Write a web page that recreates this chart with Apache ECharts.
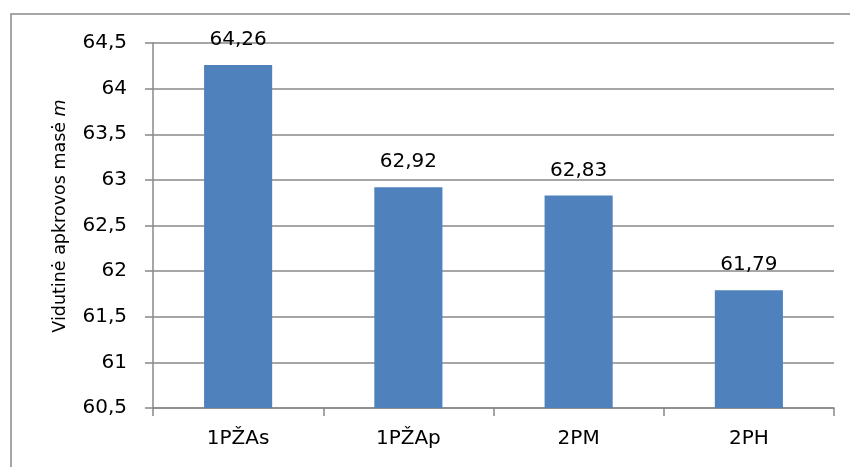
<!DOCTYPE html>
<html>
<head>
<meta charset="utf-8">
<script src="https://cdn.jsdelivr.net/npm/echarts@6/dist/echarts.min.js"></script>
<style>
  html, body { margin: 0; padding: 0; background: #fff; }
  #chart { width: 850px; height: 467px; }
</style>
</head>
<body>
<div id="chart"></div>
<script>
// Average load mass per scheme
const categories = ['1PŽAs', '1PŽAp', '2PM', '2PH'];
const values = [64.26, 62.92, 62.83, 61.79];
const yMin = 60.5;
const yMax = 64.5;
const yStep = 0.5;

const fmt = v => String(v).replace('.', ',');
const font = '"DejaVu Sans", "Open Sans", sans-serif';
const gray = '#888888';

const chart = echarts.init(document.getElementById('chart'), null, { renderer: 'canvas' });
chart.setOption({
  backgroundColor: '#ffffff',
  animation: false,
  grid: { left: 153, right: 16, top: 43, bottom: 59, containLabel: false },
  graphic: [{
    type: 'rect',
    shape: { x: 11, y: 14, width: 860, height: 480 },
    style: { fill: 'none', stroke: gray, lineWidth: 1.5 },
    silent: true
  }],
  xAxis: {
    type: 'category',
    data: categories,
    axisLine: { show: true, lineStyle: { color: gray, width: 1.5 } },
    axisTick: { show: true, length: 8, lineStyle: { color: gray, width: 1.5 } },
    axisLabel: { color: '#000', fontFamily: font, fontSize: 20, margin: 21 }
  },
  yAxis: {
    type: 'value',
    min: yMin,
    max: yMax,
    interval: yStep,
    name: '{a|Vidutinė apkrovos masė }{b|m}',
    nameLocation: 'middle',
    nameRotate: 90,
    nameGap: 84,
    nameTextStyle: {
      fontFamily: font,
      fontSize: 17.5,
      color: '#000',
      padding: [0, 0, 0, 19],
      rich: {
        a: { fontFamily: font, fontSize: 17.5, color: '#000' },
        b: { fontFamily: font, fontSize: 17.5, color: '#000', fontStyle: 'italic' }
      }
    },
    axisLine: { show: true, lineStyle: { color: gray, width: 1.5 } },
    axisTick: { show: true, length: 8, lineStyle: { color: gray, width: 1.5 } },
    splitLine: { show: true, lineStyle: { color: gray, width: 1.5 } },
    axisLabel: { color: '#000', fontFamily: font, fontSize: 20, margin: 26, formatter: fmt }
  },
  series: [{
    type: 'bar',
    data: values,
    barWidth: '40%',
    itemStyle: { color: '#4F81BD' },
    label: {
      show: true,
      position: 'top',
      distance: 15,
      color: '#000',
      fontFamily: font,
      fontSize: 20,
      formatter: p => fmt(p.value)
    }
  }]
});
</script>
</body>
</html>
